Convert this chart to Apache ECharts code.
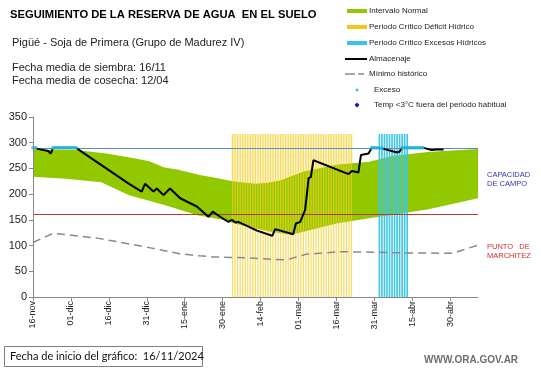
<!DOCTYPE html>
<html><head><meta charset="utf-8">
<script src="https://cdn.jsdelivr.net/npm/echarts@6/dist/echarts.min.js"></script>
<style>html,body{margin:0;padding:0;background:#fff}#c{width:541px;height:368px}</style>
</head><body><div id="c"></div>
<script>
// ---- data (x = days since 16/11/2024) ----
const tickLabels = ['16-nov','01-dic','16-dic','31-dic','15-ene','30-ene','14-feb','01-mar','16-mar','31-mar','15-abr','30-abr'];
const normalUpper = [[0,287],[17,286],[29,279],[40,270],[46,264],[52,252],[57,248],[66,237],[71,233],[79,225],[88,220],[93,222],[98,227],[107,244],[120,257],[133,263],[137,268],[142,274],[156,282],[176,288]];
const normalLower = [[0,234],[13,230],[27,223],[38,198],[52,179],[65,159],[75,150],[82,140],[94,127],[102,121],[107,127],[120,143],[133,153],[156,170],[176,192]];
const almacenaje = [[0,290],[6,284],[7,279],[8,290],[17,290],[38,220],[43,205],[44.3,220],[47.6,205],[49,211],[51.6,198],[54.2,211],[58.2,192],[64.8,176],[69.4,156],[71.1,166],[74,156],[77.3,146],[78.6,150],[80,145],[81.2,146],[88.6,129],[94.6,119],[95.8,132],[102.9,122],[104,143],[105.7,146],[107.6,169],[108.5,208],[109,231],[109.9,233],[110.9,266],[124.8,239],[126.1,245],[128.7,242],[129.7,276],[132.7,279],[134,290],[138,289],[144,281],[145,283],[146,290],[154.5,290],[155,288],[157.6,286],[159.6,287],[162.4,287]];
const minimoHistorico = [[0,106],[8,124],[26,114],[46,96],[58,84],[66,80],[71,78],[85,76],[100,72],[108,83],[121,88],[137,87],[142,86],[166,85],[176,101]];
const excesoDays = [0,1,8,9,10,11,12,13,14,15,16,17,134,135,136,137,138,146,147,148,149,150,151,152,153,154];
const excesoValue = 290;
const deficitPeriod = [79,126];
const excesosPeriod = [137,148];
const periodTop = 317;
const capacidadCampo = 290;
const puntoMarchitez = 160;
const axisMaxDay = 176;

function periodBars(p){const out=[];for(let d=p[0];d<=p[1];d++)out.push([d,periodTop]);return out;}

const chart = echarts.init(document.getElementById('c'), null, {renderer:'canvas'});
const F = 'Liberation Sans, Arial, sans-serif';
const legendY = [11,27,43,59,74,90,105];
const legendTexts = ['Intervalo Normal','Periodo Crítico Déficit Hídrico','Periodo Crítico Excesos Hídricos','Almacenaje','Mínimo histórico','Exceso','Temp <3°C fuera del periodo habitual'];
const g = [];
g.push({type:'text',style:{x:10,y:15,text:'SEGUIMIENTO DE LA RESERVA DE AGUA  EN EL SUELO',font:'bold 11.2px '+F,fill:'#000',textVerticalAlign:'middle'}});
g.push({type:'text',style:{x:12,y:43,text:'Pigüé - Soja de Primera (Grupo de Madurez IV)',font:'11px '+F,fill:'#222',textVerticalAlign:'middle'}});
g.push({type:'text',style:{x:12,y:68,text:'Fecha media de siembra: 16/11',font:'11px '+F,fill:'#222',textVerticalAlign:'middle'}});
g.push({type:'text',style:{x:12,y:81,text:'Fecha media de cosecha: 12/04',font:'11px '+F,fill:'#222',textVerticalAlign:'middle'}});
// legend icons
g.push({type:'rect',shape:{x:347,y:legendY[0]-2,width:20,height:4},style:{fill:'#92c800'}});
g.push({type:'rect',shape:{x:347,y:legendY[1]-2,width:20,height:4},style:{fill:'#f5c518'}});
g.push({type:'rect',shape:{x:347,y:legendY[2]-2,width:20,height:4},style:{fill:'#35c4ea'}});
g.push({type:'line',shape:{x1:345,y1:legendY[3],x2:367,y2:legendY[3]},style:{stroke:'#000',lineWidth:2}});
g.push({type:'line',shape:{x1:345,y1:legendY[4],x2:355,y2:legendY[4]},style:{stroke:'#888',lineWidth:1.5}});
g.push({type:'line',shape:{x1:358,y1:legendY[4],x2:364,y2:legendY[4]},style:{stroke:'#888',lineWidth:1.5}});
g.push({type:'circle',shape:{cx:357,cy:legendY[5],r:1.5},style:{fill:'#35c4ea'}});
g.push({type:'polygon',shape:{points:[[357,legendY[6]-2.5],[359.5,legendY[6]],[357,legendY[6]+2.5],[354.5,legendY[6]]]},style:{fill:'#1a1aa0'}});
legendTexts.forEach((t,i)=>{
  g.push({type:'text',style:{x:(i>=5?374:369),y:legendY[i],text:t,font:'8px '+F,fill:'#222',textVerticalAlign:'middle'}});
});
// right labels
g.push({type:'text',style:{x:487,y:170,text:'CAPACIDAD\nDE CAMPO',font:'7.5px '+F,fill:'#3434b4',lineHeight:9,textVerticalAlign:'top'}});
g.push({type:'text',style:{x:487,y:242,text:'PUNTO   DE\nMARCHITEZ',font:'7.5px '+F,fill:'#d03030',lineHeight:9,textVerticalAlign:'top'}});
// bottom
g.push({type:'rect',shape:{x:4.5,y:346.5,width:198,height:20},style:{fill:'none',stroke:'#8a7a7a',lineWidth:1}});
g.push({type:'text',style:{x:10,y:356.5,text:'Fecha de inicio del gráfico:  16/11/2024',font:'11px Lato, sans-serif',fill:'#111',textVerticalAlign:'middle'}});
g.push({type:'text',style:{x:424,y:360,text:'WWW.ORA.GOV.AR',font:'bold 10px '+F,fill:'#6e6e6e',textVerticalAlign:'middle'}});

chart.setOption({
  animation:false,
  grid:{left:33,right:63,top:117,bottom:71,containLabel:false,outerBoundsMode:'none'},
  xAxis:{type:'value',min:0,max:axisMaxDay,interval:15,z:10,
    axisLine:{lineStyle:{color:'#888'}},axisTick:{length:4,lineStyle:{color:'#888'}},splitLine:{show:false},
    axisLabel:{rotate:90,fontSize:9,fontFamily:F,color:'#222',margin:4,showMaxLabel:false,
      formatter:v=>(v%15===0&&tickLabels[v/15])?tickLabels[v/15]:''}},
  yAxis:{type:'value',min:0,max:350,interval:50,z:10,name:'Milímetros',nameLocation:'middle',nameGap:27,
    nameTextStyle:{fontSize:7.5,fontFamily:F,color:'#222'},
    axisLine:{show:true,lineStyle:{color:'#888'}},axisTick:{show:true,length:4,lineStyle:{color:'#888'}},splitLine:{show:false},
    axisLabel:{fontSize:11,fontFamily:F,color:'#222',margin:6}},
  graphic:g,
  series:[
    {type:'line',data:normalUpper,symbol:'none',lineStyle:{width:0},areaStyle:{color:'#92c800',opacity:1,origin:'start'},z:1,silent:true},
    {type:'line',data:normalLower,symbol:'none',lineStyle:{width:0},areaStyle:{color:'#ffffff',opacity:1,origin:'start'},z:2,silent:true},
    {type:'bar',data:periodBars(deficitPeriod),barWidth:1.3,itemStyle:{color:'rgba(242,206,40,0.7)'},z:3,silent:true,
      markArea:{silent:true,itemStyle:{color:'rgba(250,238,170,0.45)'},data:[[{xAxis:deficitPeriod[0]-0.7,yAxis:0},{xAxis:deficitPeriod[1]+0.7,yAxis:periodTop}]]}},
    {type:'bar',data:periodBars(excesosPeriod),barWidth:1.6,barGap:'-100%',itemStyle:{color:'#3cc6e8'},z:3,silent:true},
    {type:'line',data:minimoHistorico,symbol:'none',lineStyle:{color:'#8a8a8a',width:1.5,type:[8,5]},z:4,silent:true,
      markLine:{silent:true,symbol:'none',label:{show:false},
        data:[{yAxis:capacidadCampo,lineStyle:{color:'#5a8ad8',width:1,type:'solid'}},{yAxis:puntoMarchitez,lineStyle:{color:'#b83a2a',width:1,type:'solid'}}]}},
    {type:'line',data:almacenaje,symbol:'none',lineStyle:{color:'#000',width:2},z:6,silent:true},
    {type:'scatter',data:excesoDays.map(d=>[d,excesoValue]),symbolSize:4,itemStyle:{color:'#35c4ea'},z:7,silent:true}
  ]
});
</script></body></html>
